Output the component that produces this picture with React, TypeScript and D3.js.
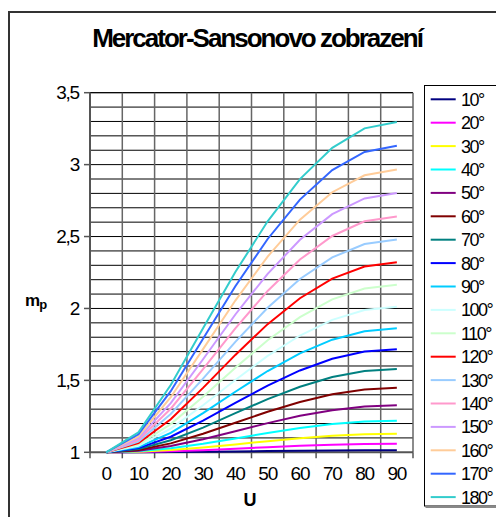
import React from "react";
import * as d3 from "d3";

// U (latitude) categories on the x axis
const uValues = [0, 10, 20, 30, 40, 50, 60, 70, 80, 90];
const yTicks = [1, 1.5, 2, 2.5, 3, 3.5];

// m_p, one row per longitude
const mp10 = [1, 1.0, 1.002, 1.004, 1.006, 1.009, 1.011, 1.013, 1.015, 1.015];
const mp20 = [1, 1.002, 1.007, 1.015, 1.025, 1.035, 1.045, 1.052, 1.057, 1.059];
const mp30 = [1, 1.004, 1.016, 1.034, 1.055, 1.077, 1.098, 1.115, 1.125, 1.129];
const mp40 = [1, 1.007, 1.028, 1.059, 1.096, 1.134, 1.169, 1.196, 1.214, 1.22];
const mp50 = [1, 1.011, 1.044, 1.091, 1.147, 1.203, 1.254, 1.293, 1.319, 1.327];
const mp60 = [1, 1.016, 1.062, 1.129, 1.205, 1.282, 1.35, 1.403, 1.437, 1.448];
const mp70 = [1, 1.022, 1.084, 1.172, 1.272, 1.37, 1.456, 1.523, 1.565, 1.579];
const mp80 = [1, 1.029, 1.108, 1.22, 1.344, 1.464, 1.569, 1.65, 1.7, 1.717];
const mp90 = [1, 1.037, 1.135, 1.272, 1.421, 1.565, 1.688, 1.783, 1.842, 1.862];
const mp100 = [1, 1.045, 1.165, 1.327, 1.503, 1.67, 1.812, 1.921, 1.989, 2.012];
const mp110 = [1, 1.054, 1.196, 1.386, 1.588, 1.779, 1.94, 2.063, 2.139, 2.165];
const mp120 = [1, 1.064, 1.23, 1.448, 1.677, 1.891, 2.071, 2.208, 2.292, 2.321];
const mp130 = [1, 1.075, 1.266, 1.512, 1.768, 2.005, 2.205, 2.355, 2.448, 2.48];
const mp140 = [1, 1.086, 1.303, 1.579, 1.862, 2.122, 2.34, 2.504, 2.606, 2.64];
const mp150 = [1, 1.098, 1.342, 1.647, 1.958, 2.241, 2.478, 2.656, 2.765, 2.803];
const mp160 = [1, 1.111, 1.383, 1.717, 2.055, 2.361, 2.617, 2.808, 2.926, 2.966];
const mp170 = [1, 1.125, 1.425, 1.789, 2.154, 2.483, 2.757, 2.962, 3.088, 3.131];
const mp180 = [1, 1.139, 1.468, 1.862, 2.253, 2.606, 2.899, 3.117, 3.252, 3.297];

const seriesNames = ["10°", "20°", "30°", "40°", "50°", "60°", "70°", "80°", "90°",
  "100°", "110°", "120°", "130°", "140°", "150°", "160°", "170°", "180°"];
const seriesValues = [mp10, mp20, mp30, mp40, mp50, mp60, mp70, mp80, mp90,
  mp100, mp110, mp120, mp130, mp140, mp150, mp160, mp170, mp180];
const seriesColors = ["#000080", "#ff00ff", "#ffff00", "#00ffff", "#800080", "#800000",
  "#008080", "#0000ff", "#00ccff", "#ccffff", "#ccffcc", "#ff0000", "#99ccff",
  "#ff99cc", "#cc99ff", "#ffcc99", "#3366ff", "#33cccc"];

const W = 496;
const H = 517;
const font = "Arial, 'Liberation Sans', sans-serif";

export default function App() {
  const left = 90, right = 413, top = 92.7, bottom = 452.3;

  const x = d3.scaleBand<string>()
    .domain(uValues.map(String))
    .range([left, right])
    .padding(0);
  const y = d3.scaleLinear().domain([1, 3.5]).range([bottom, top]);
  const cx = (u: number) => x(String(u))! + x.bandwidth() / 2;

  const minor = d3.range(11, 36).map((v) => v / 10);
  const bounds = uValues.map((u) => x(String(u))!).concat([right]);

  const line = d3.line<number>()
    .x((_, i) => cx(uValues[i]))
    .y((d) => y(d));

  const legX = 424.5, legY = 85.5, rowH = 23.4;

  return (
    <svg width={W} height={H} style={{ position: "absolute", left: 0, top: 0 }}
      fontFamily={font}>
      <rect x={0} y={0} width={W} height={H} fill="#fff" />
      {/* chart area border */}
      <rect x={9} y={12} width={W + 10} height={H + 10} fill="none" stroke="#333" strokeWidth={2} />

      <text x={257} y={47} textAnchor="middle" fontSize={26} fontWeight="bold"
        letterSpacing={-2}>Mercator-Sansonovo zobrazení</text>

      {/* grid */}
      {minor.map((v) => (
        <line key={"h" + v} x1={left} x2={right} y1={y(v)} y2={y(v)} stroke="#000" strokeWidth={1} />
      ))}
      <line x1={left} x2={right} y1={y(3.5)} y2={y(3.5)} stroke="#000" strokeWidth={1} />
      {bounds.map((b, i) => (
        <line key={"v" + i} x1={b} x2={b} y1={top} y2={bottom} stroke="#666" strokeWidth={1.5} />
      ))}

      {/* axes */}
      <line x1={left} x2={right} y1={bottom} y2={bottom} stroke="#555" strokeWidth={2} />
      <line x1={left} x2={left} y1={top} y2={bottom} stroke="#555" strokeWidth={2} />
      {yTicks.map((t) => (
        <g key={"yt" + t}>
          <line x1={left - 6} x2={left} y1={y(t)} y2={y(t)} stroke="#555" strokeWidth={1.5} />
          <text x={79} y={y(t) + 6.5} textAnchor="end" fontSize={19} letterSpacing={-1.2}>
            {String(t).replace(".", ",")}
          </text>
        </g>
      ))}
      {bounds.map((b, i) => (
        <line key={"xt" + i} x1={b} x2={b} y1={bottom} y2={bottom + 6} stroke="#555" strokeWidth={1.5} />
      ))}
      {uValues.map((u) => (
        <text key={"xl" + u} x={cx(u)} y={480} textAnchor="middle" fontSize={19} letterSpacing={-1.2}>
          {u}
        </text>
      ))}

      <text x={250} y={506} textAnchor="middle" fontSize={18} fontWeight="bold">U</text>
      <text x={25} y={306} fontSize={17} fontWeight="bold" letterSpacing={-1}>
        m<tspan fontSize={13} dy={3}>p</tspan>
      </text>

      {/* series */}
      {seriesValues.map((vals, i) => (
        <path key={"s" + i} d={line(vals)!} fill="none" stroke={seriesColors[i]} strokeWidth={2} />
      ))}

      {/* legend */}
      <rect x={legX} y={legY} width={100} height={420.5} fill="#fff" stroke="#000" strokeWidth={1} />
      <line x1={legX + 1} x2={W} y1={legY + 421.5} y2={legY + 421.5} stroke="#888" strokeWidth={2} />
      {seriesNames.map((n, i) => {
        const ry = 99.3 + i * rowH;
        return (
          <g key={"lg" + i}>
            <line x1={430.7} x2={455.7} y1={ry} y2={ry} stroke={seriesColors[i]} strokeWidth={2} />
            <text x={461} y={ry + 6.5} fontSize={18} letterSpacing={-1.5}>{n}</text>
          </g>
        );
      })}
    </svg>
  );
}
